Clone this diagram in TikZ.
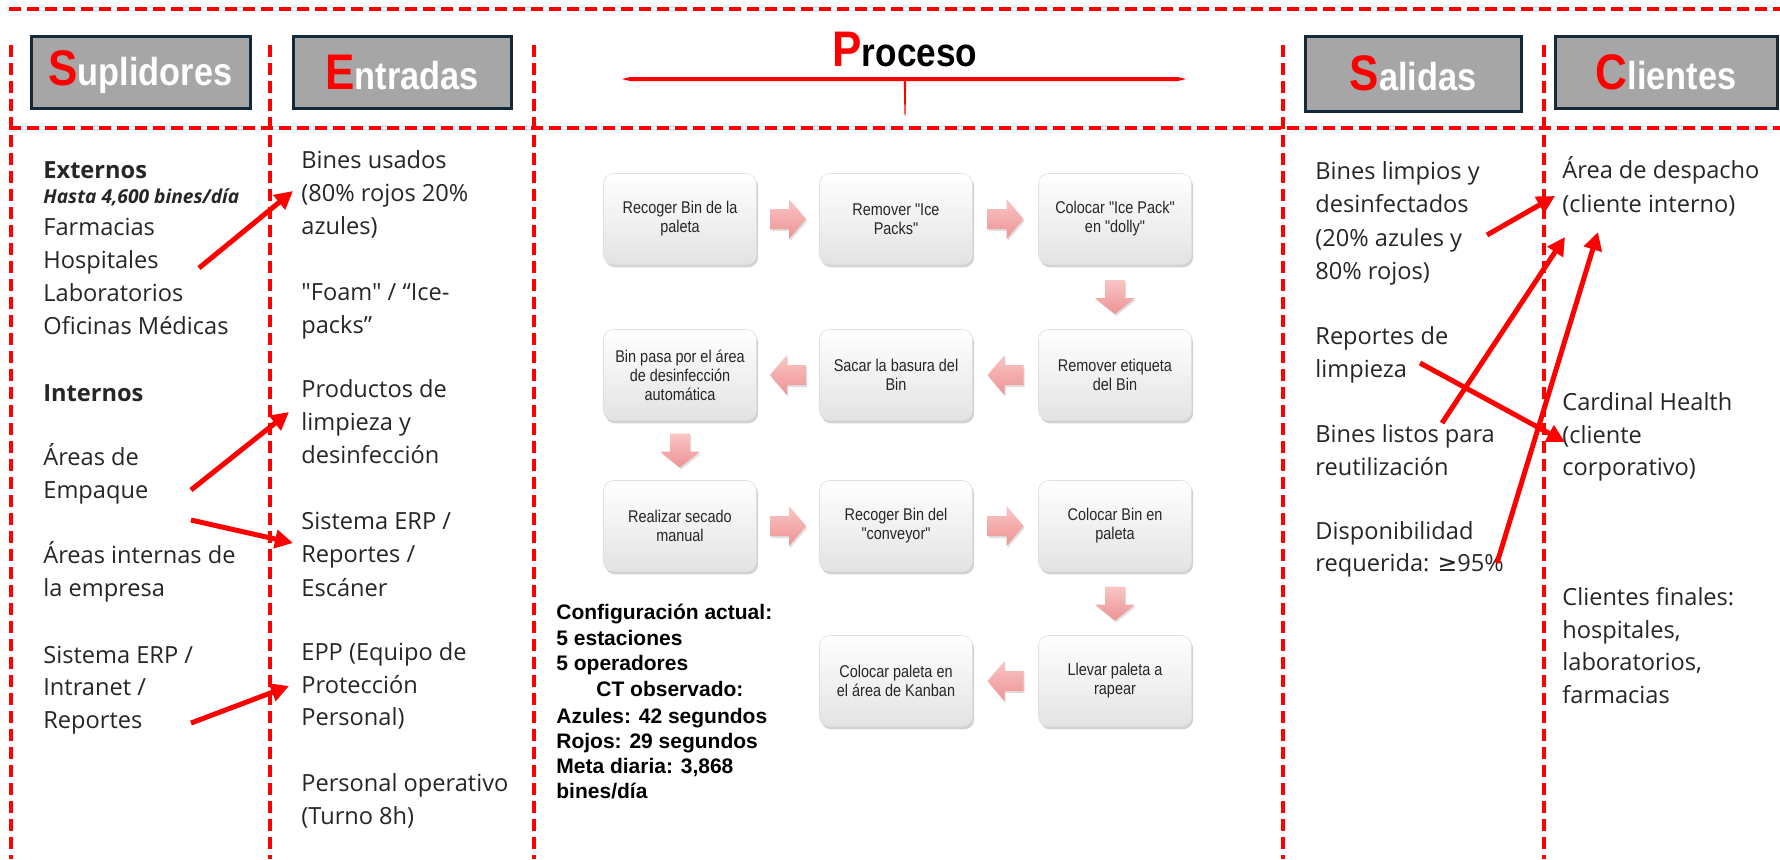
\documentclass[tikz,border=0pt]{standalone}
\usepackage{fontspec}
\setmainfont{Open Sans}[Ligatures=TeXOff]
\newfontfamily\condf[FakeStretch=0.85]{Liberation Sans}
\newfontfamily\hdrf[FakeStretch=0.88]{Liberation Sans}
\newfontfamily\cfgf{Liberation Sans}
\newfontfamily\djv{DejaVu Sans}
\usetikzlibrary{arrows.meta,shadows,calc}
\definecolor{hdrgray}{HTML}{A6A6A6}
\definecolor{hdrline}{HTML}{14293A}
\definecolor{txtc}{HTML}{262626}
\definecolor{pinkA}{HTML}{F9C6C6}
\definecolor{pinkB}{HTML}{EE9292}
\newcommand\hdrtxt[2]{\hdrf\bfseries{\color{red}\fontsize{25}{25}\selectfont #1}{\color{white}\fontsize{19.5}{19.5}\selectfont #2}}
\begin{document}
\begin{tikzpicture}[x=0.5pt,y=-0.5pt,
  dsh/.style={draw=red, line width=2pt, dash pattern=on 6pt off 3pt},
  hdrbox/.style={draw=hdrline, line width=1.5pt, fill=hdrgray, inner sep=0pt},
  txt/.style={anchor=base west, inner sep=0pt, text=txtc, font=\fontsize{11.8}{14}\selectfont},
  cfg/.style={anchor=base west, inner sep=0pt, text=black, font=\cfgf\bfseries\fontsize{10.5}{12}\selectfont},
  pbox/.style={rounded corners=5pt, minimum width=76.5pt, minimum height=45.5pt, align=center, inner sep=2pt,
    top color=white, bottom color=gray!22, draw=gray!25, line width=0.3pt,
    drop shadow={opacity=0.35, shadow xshift=0.8pt, shadow yshift=-1.4pt},
    font=\condf\fontsize{8.5}{9.5}\selectfont, text=txtc},
  redarr/.style={draw=red, line width=2.5pt, -{Triangle[length=9pt,width=9pt]}},
  blk/.style={top color=pinkA, bottom color=pinkB, draw=none,
    drop shadow={opacity=0.25, shadow xshift=0.6pt, shadow yshift=-1pt}},
  rarr/.pic={\path[blk] (-18,-10) -- (1,-10) -- (1,-20) -- (18,0) -- (1,20) -- (1,10) -- (-18,10) -- cycle;},
  larr/.pic={\path[blk] (18,-10) -- (-1,-10) -- (-1,-20) -- (-18,0) -- (-1,20) -- (-1,10) -- (18,10) -- cycle;},
  darr/.pic={\path[blk] (-10,-17) -- (-10,1) -- (-20,1) -- (0,17) -- (20,1) -- (10,1) -- (10,-17) -- cycle;}
]
\useasboundingbox (0,0) rectangle (1780,859);
\fill[white] (0,0) rectangle (1780,859);

% frame lines
\draw[dsh] (9,9) -- (1780,9);
\draw[dsh] (9,128) -- (1780,128);
\foreach \xx in {11,270,534,1283,1544} \draw[dsh] (\xx,45) -- (\xx,859);

% headers
\node[hdrbox, minimum width=109.5pt, minimum height=36pt] (hsup) at (140.5,72) {\hdrtxt{S}{uplidores}};
\node[hdrbox, minimum width=109pt, minimum height=36pt] (hent) at (402,72) {\hdrtxt{E}{ntradas}};
\node[hdrbox, minimum width=108pt, minimum height=37.5pt] (hsal) at (1413,73.5) {\hdrtxt{S}{alidas}};
\node[hdrbox, minimum width=111pt, minimum height=36pt] (hcli) at (1666,72) {\hdrtxt{C}{lientes}};
\node[anchor=base, inner sep=0pt] (hpro) at (905,66) {\hdrf\bfseries{\color{red}\fontsize{25}{25}\selectfont P}{\fontsize{20}{20}\selectfont roceso}};
\coordinate (lineL) at (622,79);
\coordinate (lineR) at (1186,79);
\coordinate (tickT) at (905,79);
\coordinate (tickB) at (905,117);
\fill[red] (lineL) -- ($(lineL)+(8,-2)$) -- ($(lineR)+(-8,-2)$) -- (lineR) -- ($(lineR)+(-8,2)$) -- ($(lineL)+(8,2)$) -- cycle;
\fill[red] ($(tickT)+(-1.2,0)$) -- ($(tickT)+(1.2,0)$) -- ($(tickB)+(0.6,-4)$) -- (tickB) -- ($(tickB)+(-0.6,-4)$) -- cycle;

% Suplidores column
\node[txt] (s1) at (43,178) {\bfseries Externos};
\node[txt, font=\bfseries\itshape\fontsize{9.6}{10}\selectfont] (s2) at (43,203) {Hasta 4,600 bines/día};
\node[txt] (s3) at (43,235) {Farmacias};
\node[txt] (s4) at (43,268) {Hospitales};
\node[txt] (s5) at (43,301) {Laboratorios};
\node[txt] (s6) at (43,334) {Oficinas Médicas};
\node[txt] (s7) at (43,401) {\bfseries Internos};
\node[txt] (s8) at (43,465) {Áreas de};
\node[txt] (s9) at (43,498) {Empaque};
\node[txt] (s10) at (43,563) {Áreas internas de};
\node[txt] (s11) at (43,596) {la empresa};
\node[txt] (s12) at (43,663) {Sistema ERP /};
\node[txt] (s13) at (43,695) {Intranet /};
\node[txt] (s14) at (43,728) {Reportes};

% Entradas column
\node[txt] (e1) at (301,168) {Bines usados};
\node[txt] (e2) at (301,201) {(80\% rojos 20\%};
\node[txt] (e3) at (301,234) {azules)};
\node[txt] (e4) at (301,300) {"Foam" / “Ice-};
\node[txt] (e5) at (301,333) {packs”};
\node[txt] (e6) at (301,397) {Productos de};
\node[txt] (e7) at (301,430) {limpieza y};
\node[txt] (e8) at (301,463) {desinfección};
\node[txt] (e9) at (301,529) {Sistema ERP /};
\node[txt] (e10) at (301,562) {Reportes /};
\node[txt] (e11) at (301,596) {Escáner};
\node[txt] (e12) at (301,660) {EPP (Equipo de};
\node[txt] (e13) at (301,693) {Protección};
\node[txt] (e14) at (301,725) {Personal)};
\node[txt] (e15) at (301,791) {Personal operativo};
\node[txt] (e16) at (301,824) {(Turno 8h)};

% Salidas column
\node[txt] (o1) at (1315,179) {Bines limpios y};
\node[txt] (o2) at (1315,212) {desinfectados};
\node[txt] (o3) at (1315,246) {(20\% azules y};
\node[txt] (o4) at (1315,279) {80\% rojos)};
\node[txt] (o5) at (1315,344) {Reportes de};
\node[txt] (o6) at (1315,377) {limpieza};
\node[txt] (o7) at (1315,442) {Bines listos para};
\node[txt] (o8) at (1315,475) {reutilización};
\node[txt] (o9) at (1315,539) {Disponibilidad};
\node[txt] (o10) at (1315,571) {requerida: {\djv ≥}95\%};

% Clientes column
\node[txt] (c1) at (1562,178) {Área de despacho};
\node[txt] (c2) at (1562,212) {(cliente interno)};
\node[txt] (c3) at (1562,410) {Cardinal Health};
\node[txt] (c4) at (1562,443) {(cliente};
\node[txt] (c5) at (1562,475) {corporativo)};
\node[txt] (c6) at (1562,605) {Clientes finales:};
\node[txt] (c7) at (1562,638) {hospitales,};
\node[txt] (c8) at (1562,670) {laboratorios,};
\node[txt] (c9) at (1562,703) {farmacias};

% configuration text
\node[cfg] (k1) at (556,619) {Configuración actual:};
\node[cfg] (k2) at (556,645) {5 estaciones};
\node[cfg] (k3) at (556,670) {5 operadores};
\node[cfg] (k4) at (596,696) {CT observado:};
\node[cfg] (k5) at (556,723) {Azules: 42 segundos};
\node[cfg] (k6) at (556,748) {Rojos: 29 segundos};
\node[cfg] (k7) at (556,773) {Meta diaria: 3,868};
\node[cfg] (k8) at (556,798) {bines/día};

% process boxes
\node[pbox] (p1) at (680,219) {Recoger Bin de la\\paleta};
\node[pbox] (p2) at (896,219) {Remover "Ice\\Packs"};
\node[pbox] (p3) at (1115,219) {Colocar "Ice Pack"\\en "dolly"};
\node[pbox] (p4) at (1115,375) {Remover etiqueta\\del Bin};
\node[pbox] (p5) at (896,375) {Sacar la basura del\\Bin};
\node[pbox] (p6) at (680,375) {Bin pasa por el área\\de desinfección\\automática};
\node[pbox] (p7) at (680,526) {Realizar secado\\manual};
\node[pbox] (p8) at (896,526) {Recoger Bin del\\"conveyor"};
\node[pbox] (p9) at (1115,526) {Colocar Bin en\\paleta};
\node[pbox] (p10) at (1115,681) {Llevar paleta a\\rapear};
\node[pbox] (p11) at (896,681) {Colocar paleta en\\el área de Kanban};

% block arrows between boxes
\pic at ($(p1.east)!0.5!(p2.west)$) {rarr};
\pic at ($(p2.east)!0.5!(p3.west)$) {rarr};
\pic at ($(p3.south)!0.5!(p4.north)$) {darr};
\pic at ($(p4.west)!0.5!(p5.east)$) {larr};
\pic at ($(p5.west)!0.5!(p6.east)$) {larr};
\pic at ($(p6.south)!0.5!(p7.north)$) {darr};
\pic at ($(p7.east)!0.5!(p8.west)$) {rarr};
\pic at ($(p8.east)!0.5!(p9.west)$) {rarr};
\pic at ($(p9.south)!0.5!(p10.north)$) {darr};
\pic at ($(p10.west)!0.5!(p11.east)$) {larr};

% red connectors
\coordinate (a1s) at (199,268); \coordinate (a1e) at (293,191);
\coordinate (a2s) at (191,490); \coordinate (a2e) at (289,412);
\coordinate (a3s) at (191,520); \coordinate (a3e) at (293,543);
\coordinate (a4s) at (191,723); \coordinate (a4e) at (289,686);
\coordinate (a5s) at (1487,235); \coordinate (a5e) at (1555,196);
\coordinate (a6s) at (1442,423); \coordinate (a6e) at (1565,237);
\coordinate (a7s) at (1420,363); \coordinate (a7e) at (1565,442);
\coordinate (a8s) at (1497,563); \coordinate (a8e) at (1598,232);
\draw[redarr] (a1s) -- (a1e);
\draw[redarr] (a2s) -- (a2e);
\draw[redarr] (a3s) -- (a3e);
\draw[redarr] (a4s) -- (a4e);
\draw[redarr] (a5s) -- (a5e);
\draw[redarr] (a6s) -- (a6e);
\draw[redarr] (a7s) -- (a7e);
\draw[redarr] (a8s) -- (a8e);
\end{tikzpicture}
\end{document}
